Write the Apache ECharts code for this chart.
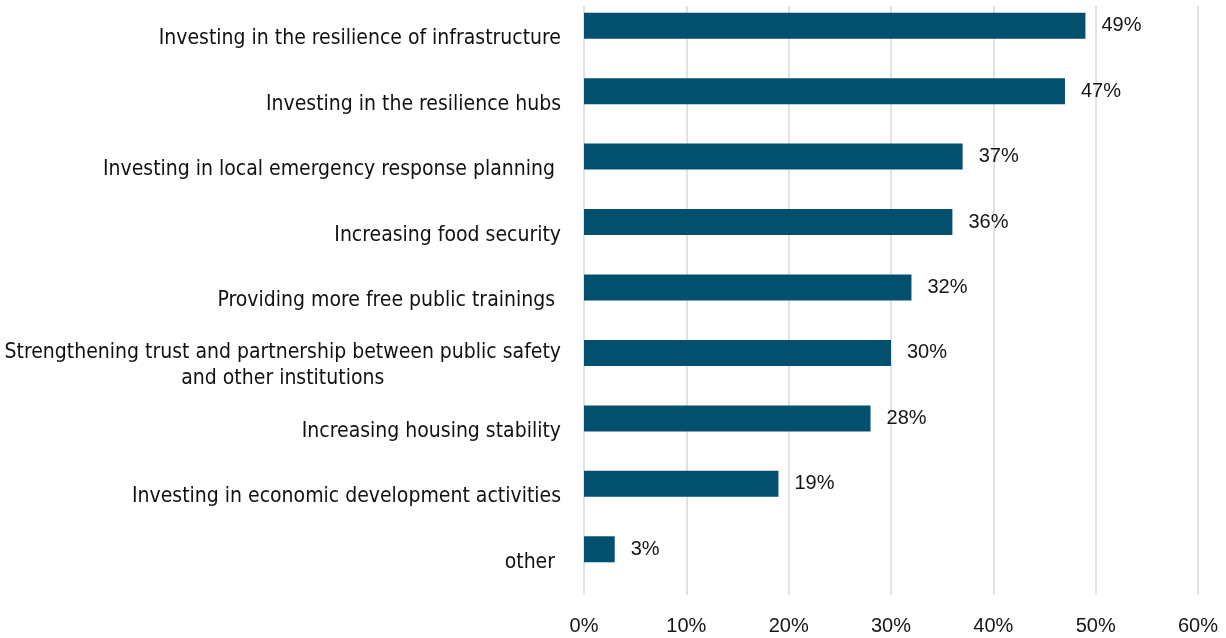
<!DOCTYPE html>
<html>
<head>
<meta charset="utf-8">
<script src="https://cdn.jsdelivr.net/npm/echarts@6/dist/echarts.min.js"></script>
<style>
  html, body { margin: 0; padding: 0; background: #fff; }
  #chart { width: 1226px; height: 638px; }
</style>
</head>
<body>
<div id="chart"></div>
<script>
// Survey priorities, share of respondents (%)
const categories = [
  'Investing in the resilience of infrastructure',
  'Investing in the resilience hubs',
  'Investing in local emergency response planning ',
  'Increasing food security',
  'Providing more free public trainings ',
  'Strengthening trust and partnership between public safety\nand other institutions',
  'Increasing housing stability',
  'Investing in economic development activities',
  'other '
];
const shares = [49, 47, 37, 36, 32, 30, 28, 19, 3];
// second (empty) series keeps the clustered-bar slot below each bar
const placeholder = categories.map(() => null);
const xTicks = [0, 10, 20, 30, 40, 50, 60];

const chart = echarts.init(document.getElementById('chart'), null, { renderer: 'canvas' });

chart.setOption({
  animation: false,
  backgroundColor: '#ffffff',
  grid: { left: 584, right: 28, top: 6, bottom: 43, containLabel: false },
  xAxis: {
    type: 'value',
    min: xTicks[0],
    max: xTicks[xTicks.length - 1],
    interval: 10,
    axisLine: { show: false },
    axisTick: { show: false },
    splitLine: { show: true, lineStyle: { color: '#d9d9d9', width: 1.5 } },
    axisLabel: {
      formatter: v => v + '%',
      color: '#151515',
      fontFamily: 'Liberation Sans',
      fontSize: 20,
      margin: 21
    }
  },
  yAxis: {
    type: 'category',
    inverse: true,
    data: categories,
    axisLine: { show: false },
    axisTick: { show: false },
    axisLabel: {
      margin: 23,
      formatter: v => '{c|' + v + '}',
      rich: {
        c: {
          align: 'center',
          color: '#111111',
          fontFamily: '"DejaVu Sans Condensed", Roboto, sans-serif',
          fontSize: 21,
          lineHeight: 26
        }
      }
    }
  },
  series: [
    {
      type: 'bar',
      data: shares,
      barWidth: 26,
      barGap: '0%',
      itemStyle: { color: '#02506e' },
      label: {
        show: true,
        position: 'right',
        distance: 16,
        formatter: p => p.value + '%',
        color: '#151515',
        fontFamily: 'Liberation Sans',
        fontSize: 20
      }
    },
    {
      type: 'bar',
      data: placeholder,
      barWidth: 26,
      barGap: '0%',
      itemStyle: { color: '#02506e' }
    }
  ]
});
</script>
</body>
</html>
